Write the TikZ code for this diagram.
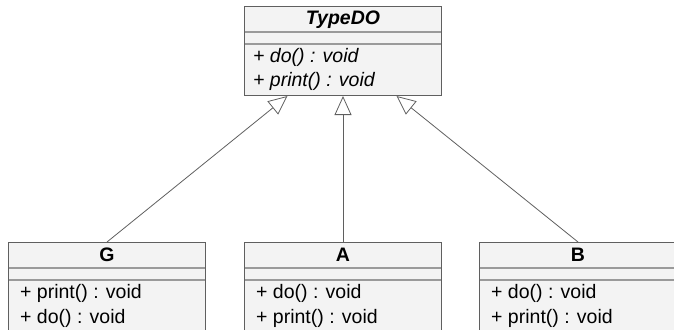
\documentclass[tikz,border=0pt]{standalone}
\usepackage{fontspec}
\setmainfont{Liberation Sans}
\usetikzlibrary{arrows.meta, calc}
\definecolor{umlfill}{HTML}{F3F3F3}
\definecolor{umlborder}{HTML}{5F5F5F}
\definecolor{umlsep}{HTML}{9A9A9A}
\tikzset{
  classbox/.style = {draw = umlborder, fill = umlfill, line width = 1pt, minimum width = 197pt, anchor = north west, inner sep = 0pt},
  sepline/.style = {draw = umlsep, line width = 1.2pt},
  member/.style = {anchor = base west, inner sep = 0pt, font = \fontsize{19.5}{20}\selectfont},
  classname/.style = {anchor = base, inner sep = 0pt, font = \fontsize{19.5}{20}\selectfont\bfseries},
  extends/.style = {draw = umlborder, line width = 0.8pt, -{Triangle[open, length = 19pt, width = 17pt]}}
}

\begin{document}
\begin{tikzpicture}[x = 1pt, y = 1pt]
\clip (0,0) rectangle (674,-329);
\node[classbox, minimum height = 89pt] (typedo) at (244,-6) {};
\node[classbox, minimum height = 100pt] (g) at (8,-242) {};
\node[classbox, minimum height = 100pt] (a) at (244,-242) {};
\node[classbox, minimum height = 100pt] (b) at (479,-242) {};
\foreach \c in {typedo, g, a, b} {
  \draw[sepline] ($(\c.north west)+(0.5,-26)$) -- ++(196,0);
  \draw[sepline] ($(\c.north west)+(0.5,-38)$) -- ++(196,0);
}
\node[classname] (typedoname) at ($(typedo.north)+(0,-19)$) {\itshape TypeDO};
\node[member] (typedodo) at ($(typedo.north west)+(9,-57)$) {\itshape + do() : void};
\node[member] (typedoprint) at ($(typedo.north west)+(9,-80.5)$) {\itshape + print() : void};
\node[classname] (gname) at ($(g.north)+(0,-19)$) {G};
\node[member] (gprint) at ($(g.north west)+(12,-56.5)$) {+ print() : void};
\node[member] (gdo) at ($(g.north west)+(12,-81)$) {+ do() : void};
\node[classname] (aname) at ($(a.north)+(0,-19)$) {A};
\node[member] (ado) at ($(a.north west)+(12,-56.5)$) {+ do() : void};
\node[member] (aprint) at ($(a.north west)+(12,-81)$) {+ print() : void};
\node[classname] (bname) at ($(b.north)+(0,-19)$) {B};
\node[member] (bdo) at ($(b.north west)+(12,-56.5)$) {+ do() : void};
\node[member] (bprint) at ($(b.north west)+(12,-81)$) {+ print() : void};
\coordinate (tipg) at ($(typedo.south)+(-55.5,0)$);
\coordinate (tipb) at ($(typedo.south)+(53.5,0)$);
\draw[extends] (g.north) -- (tipg);
\draw[extends] (a.north) -- (typedo.south);
\draw[extends] (b.north) -- (tipb);
\end{tikzpicture}
\end{document}
